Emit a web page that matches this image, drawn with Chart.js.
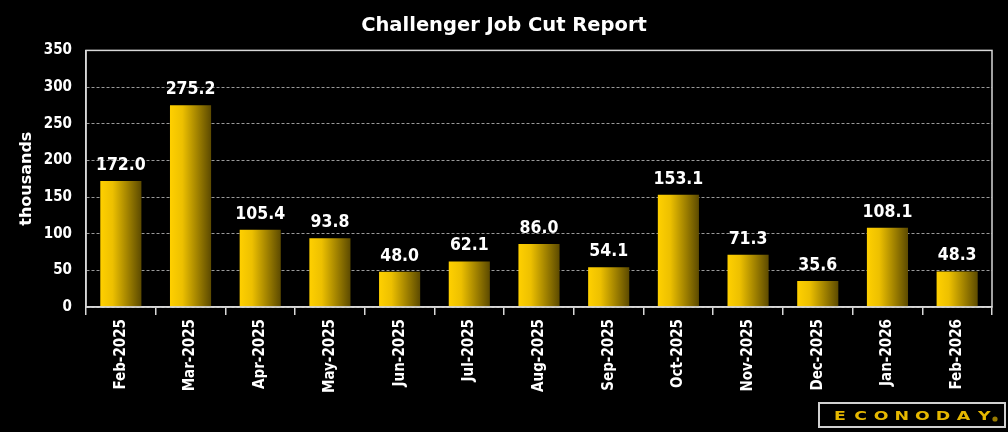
<!DOCTYPE html>
<html>
<head>
<meta charset="utf-8">
<script src="https://cdn.jsdelivr.net/npm/chart.js@4.4.1/dist/chart.umd.min.js"></script>
<style>
  html, body { margin: 0; padding: 0; background: #000; }
  #wrap { width: 1008px; height: 432px; }
</style>
</head>
<body>
<div id="wrap"><canvas id="jobCutChart"></canvas></div>
<script>
// data
const months = ['Feb-2025', 'Mar-2025', 'Apr-2025', 'May-2025', 'Jun-2025', 'Jul-2025', 'Aug-2025',
                'Sep-2025', 'Oct-2025', 'Nov-2025', 'Dec-2025', 'Jan-2026', 'Feb-2026'];
const jobCuts = [172.0, 275.2, 105.4, 93.8, 48.0, 62.1, 86.0, 54.1, 153.1, 71.3, 35.6, 108.1, 48.3];
const yTicks = [0, 50, 100, 150, 200, 250, 300, 350];

const FONT = "'DejaVu Sans Condensed', 'DejaVu Sans', sans-serif";
const FONT_WIDE = "'DejaVu Sans', sans-serif";

// gradient on each bar + labels above
const barStylePlugin = {
    id: 'barStyle',
    beforeDatasetsDraw(chart) {
        const ctx = chart.ctx;
        chart.getDatasetMeta(0).data.forEach(bar => {
            const g = ctx.createLinearGradient(bar.x - bar.width / 2, 0, bar.x + bar.width / 2, 0);
            g.addColorStop(0, '#FFD000');
            g.addColorStop(0.3, '#EDC000');
            g.addColorStop(1, '#5C4A00');
            bar.options = Object.assign({}, bar.options, { backgroundColor: g });
        });
    },
    afterDatasetsDraw(chart) {
        const ctx = chart.ctx;
        const area = chart.chartArea;
        ctx.save();
        // plot border
        ctx.strokeStyle = '#d8d8d8';
        ctx.lineWidth = 1.5;
        ctx.strokeRect(area.left, area.top, area.right - area.left, area.bottom - area.top);
        // value labels
        ctx.fillStyle = '#fff';
        ctx.font = 'bold 17.5px ' + FONT;
        ctx.textAlign = 'center';
        ctx.textBaseline = 'bottom';
        chart.getDatasetMeta(0).data.forEach((bar, i) => {
            ctx.fillText(jobCuts[i].toFixed(1), bar.x, bar.y - 7);
        });
        ctx.restore();
    },
    afterDraw(chart) {
        // logo box
        const ctx = chart.ctx;
        ctx.save();
        ctx.strokeStyle = '#d0d0d0';
        ctx.lineWidth = 2;
        ctx.strokeRect(819, 403, 186, 24);
        ctx.fillStyle = '#E6B800';
        ctx.font = 'bold 12px ' + FONT_WIDE;
        ctx.textBaseline = 'alphabetic';
        ctx.textAlign = 'center';
        const word = 'ECONODAY';
        let x = 840;
        for (const ch of word) {
            ctx.save();
            ctx.translate(x, 420);
            ctx.scale(1.45, 1);
            ctx.fillText(ch, 0, 0);
            ctx.restore();
            x += 20.6;
        }
        ctx.fillStyle = '#9a7c00';
        ctx.beginPath();
        ctx.arc(995, 419, 2.6, 0, Math.PI * 2);
        ctx.fill();
        ctx.restore();
    }
};

const jobCutData = {
    labels: months,
    datasets: [{
        data: jobCuts,
        backgroundColor: '#E8C000',
        borderWidth: 0,
        barPercentage: 0.59,
        categoryPercentage: 1.0
    }]
};

const jobCutOptions = {
    responsive: true,
    maintainAspectRatio: false,
    animation: false,
    layout: { padding: 0 },
    plugins: {
        legend: { display: false },
        tooltip: { enabled: false },
        title: {
            display: true,
            text: 'Challenger Job Cut Report',
            color: '#fff',
            font: { family: FONT_WIDE, size: 19.5, weight: 'bold' },
            padding: { top: 14, bottom: 13 }
        }
    },
    scales: {
        x: {
            afterFit(scale) { scale.height = 125; },
            grid: {
                offset: true,
                drawOnChartArea: false,
                color: '#d8d8d8',
                tickLength: 8,
                lineWidth: 1.5
            },
            border: { display: true, color: '#d8d8d8', width: 1.5 },
            ticks: {
                color: '#fff',
                maxRotation: 90,
                minRotation: 90,
                autoSkip: false,
                padding: 4,
                font: { family: FONT, size: 15, weight: 'bold' }
            }
        },
        y: {
            min: 0,
            max: 350,
            afterFit(scale) { scale.width = 86; },
            afterBuildTicks(scale) { scale.ticks = yTicks.map(v => ({ value: v })); },
            grid: {
                color: '#9a9a9a',
                drawTicks: false,
                lineWidth: 1
            },
            // in v4 border.dash dashes the grid lines
            border: { display: true, color: '#d8d8d8', width: 1.5, dash: [3, 2] },
            ticks: {
                color: '#fff',
                padding: 14,
                font: { family: FONT, size: 15, weight: 'bold' }
            },
            title: {
                display: true,
                text: 'thousands',
                color: '#fff',
                font: { family: FONT_WIDE, size: 16, weight: 'bold' },
                padding: { top: 17, bottom: 0 }
            }
        },
        // empty right axis, only keeps the right margin so the title stays centred on the page
        yRight: {
            position: 'right',
            min: 0,
            max: 350,
            afterFit(scale) { scale.width = 16; },
            grid: { drawOnChartArea: false, drawTicks: false },
            border: { display: false },
            ticks: { display: false }
        }
    }
};

const jobCutChart = new Chart(document.getElementById('jobCutChart'), {
    type: 'bar',
    data: jobCutData,
    options: jobCutOptions,
    plugins: [barStylePlugin]
});
</script>
</body>
</html>
